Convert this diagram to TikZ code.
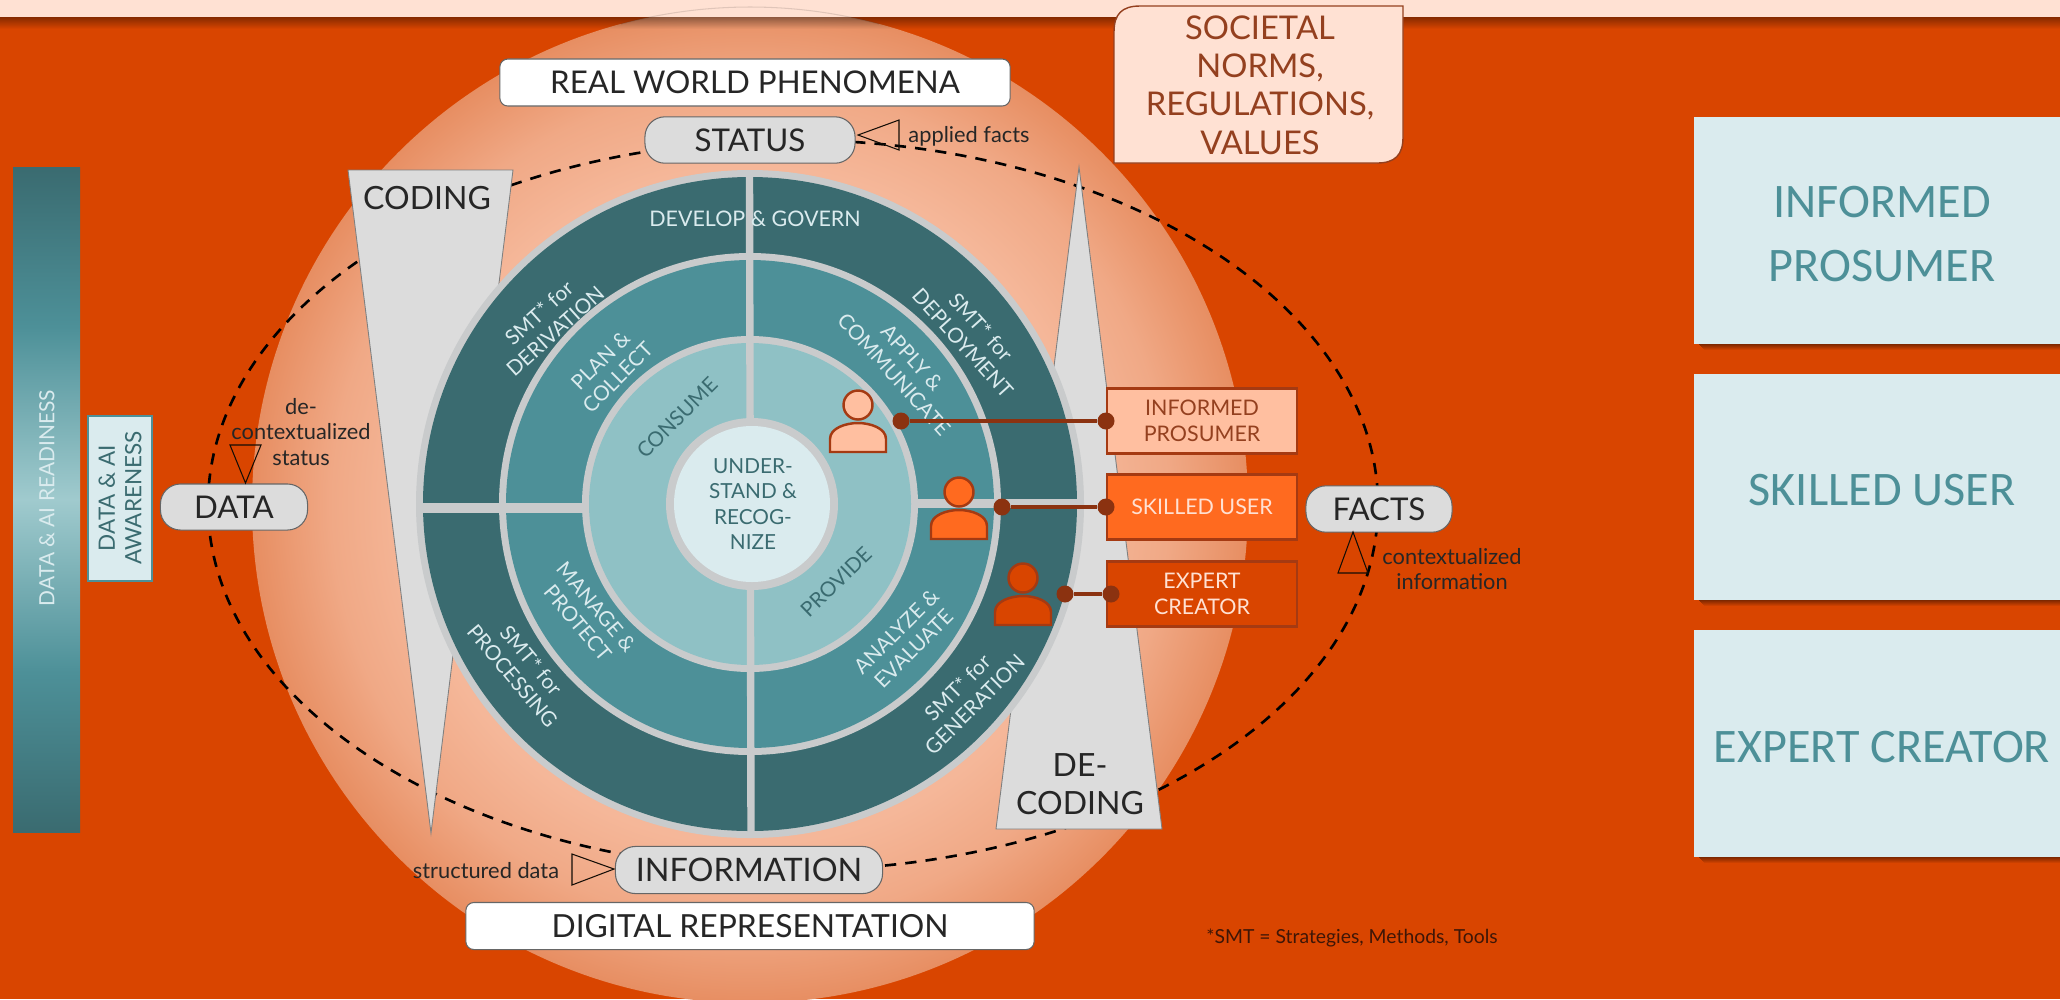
\documentclass[tikz,border=0pt]{standalone}
\usepackage{fontspec}
\setmainfont{Lato}
\newfontfamily\boxfont{Carlito}
\usetikzlibrary{calc}
\pgfdeclarelayer{ground}
\pgfdeclarelayer{oval}
\pgfsetlayers{ground,oval,main}
\definecolor{bgred}{HTML}{D94500}
\definecolor{cream}{HTML}{FFE1D3}
\definecolor{peachin}{HTML}{F5B799}
\definecolor{peachout}{HTML}{E78E62}
\definecolor{ringdark}{HTML}{3A6B70}
\definecolor{ringmid}{HTML}{4D9098}
\definecolor{ringlight}{HTML}{8FC1C5}
\definecolor{paleteal}{HTML}{DAEBEE}
\definecolor{ringgray}{HTML}{C9CBCC}
\definecolor{wedgegray}{HTML}{DCDCDC}
\definecolor{rolepeach}{HTML}{FFBFA0}
\definecolor{roleorange}{HTML}{FF6A1F}
\definecolor{rolered}{HTML}{D94500}
\definecolor{roleline}{HTML}{A53A12}
\definecolor{brownline}{HTML}{8B3210}
\definecolor{browntext}{HTML}{94401F}
\pgfdeclareradialshading{peachglow}{\pgfpointorigin}{color(0bp)=(peachin); color(17bp)=(peachin); color(21bp)=(peachin!65!peachout); color(25bp)=(peachout); color(50bp)=(peachout)}
\pgfdeclareverticalshading{barglow}{100bp}{color(0bp)=(ringdark); color(25bp)=(ringdark); color(37bp)=(ringmid); color(50bp)=(ringlight!85!white); color(63bp)=(ringmid); color(75bp)=(ringdark); color(100bp)=(ringdark)}
\tikzset{
  bigtext/.style={font=\fontsize{8.9}{10.9}\selectfont,text=black!85,align=center},
  ringtext/.style={font=\fontsize{5.9}{6.9}\selectfont,text=paleteal,align=center},
  ringdarktext/.style={ringtext,text=ringdark},
  smalltext/.style={font=\fontsize{6.2}{7.2}\selectfont,text=black!85,align=center},
  pill/.style={draw=black!60,line width=0.3pt,fill=wedgegray,rounded corners=0.2cm,minimum height=0.46cm,bigtext},
  titlebox/.style={draw=black!60,line width=0.3pt,fill=white,rounded corners=0.08cm,minimum height=0.47cm,bigtext},
  rolebox/.style={draw=roleline,line width=0.75pt,minimum width=1.9cm,minimum height=0.65cm,font=\fontsize{6.1}{7.3}\selectfont,align=center},
  bigtitle/.style={font=\boxfont\fontsize{13.7}{18}\selectfont,text=ringmid,align=center},
  wedge/.style={draw=black!50,line width=0.25pt,fill=wedgegray},
  marker/.style={draw=black!90!brown,line width=0.3pt},
  arcline/.style={black,line width=0.75pt,dash pattern=on 3.2pt off 2.6pt},
  linkdot/.style={circle,fill=brownline,inner sep=0pt,minimum size=0.17cm},
  link/.style={brownline,line width=1pt}
}
\begin{document}
\begin{tikzpicture}[x=0.01cm,y=-0.01cm]
\useasboundingbox (0,0) rectangle (2060,999);
\begin{pgfonlayer}{ground}
\fill[bgred] (0,0) rectangle (2060,999);
\begin{scope}
\clip (0,0) rectangle (2060,999);
\shade[shading=peachglow] (750,505) circle[radius=498];
\fill[cream] (0,0) rectangle (2060,17);
\draw[black,opacity=0.12,line width=0.3pt] (750,505) ++(-75:498) arc[start angle=-75,end angle=-105,radius=498];
\foreach \i in {0,...,11}
  \fill[black,opacity=0.38-0.032*\i] (0,17+\i) rectangle (2060,18+\i);
\end{scope}
\end{pgfonlayer}
\draw[wedge] (348,170) -- (513,170) -- (431,833) -- cycle;
\draw[wedge] (1079,167) -- (1162,829) -- (996,829) -- cycle;
\node[bigtext,font=\fontsize{9.1}{10.9}\selectfont] (coding) at (427,198) {CODING};
\fill[ringgray] (750,504) circle[radius=334];
\fill[ringdark] (750,504) circle[radius=327];
\fill[ringgray] (750,504) circle[radius=251];
\fill[ringmid] (750,504) circle[radius=244];
\fill[ringgray] (750,504) circle[radius=168];
\fill[ringlight] (750,504) circle[radius=161];
\draw[ringgray,line width=2.1pt] (749.5,172) -- (751,836);
\draw[ringgray,line width=2.6pt] (418,508) -- (585,508);
\draw[ringgray,line width=2.6pt] (915,503.5) -- (1082,503.5);
\fill[ringgray] (752,504) circle[radius=86];
\fill[paleteal] (752,504) circle[radius=78];
\node[ringdarktext,font=\fontsize{5.9}{7.2}\selectfont] (understand) at (753,504) {UNDER-\\STAND \&\\RECOG-\\NIZE};
\node[ringtext,font=\fontsize{6.1}{6.9}\selectfont] (develop) at (755,219) {DEVELOP \& GOVERN};
\node[ringtext,rotate=42] (derivation) at (547,322) {SMT* for\\DERIVATION};
\node[ringtext,rotate=45] (plan) at (609,369) {PLAN \&\\COLLECT};
\node[ringdarktext,rotate=45] (consume) at (677,418) {CONSUME};
\node[ringtext,rotate=-48] (deployment) at (972,335) {SMT* for\\DEPLOYMENT};
\node[ringtext,rotate=-48] (apply) at (903,366) {APPLY \&\\COMMUNICATE};
\node[ringtext,rotate=-50] (manage) at (587,615) {MANAGE \&\\PROTECT};
\node[ringtext,rotate=-50] (processing) at (522,668) {SMT* for\\PROCESSING};
\node[ringdarktext,rotate=44] (provide) at (836,582) {PROVIDE};
\node[ringtext,rotate=45] (analyze) at (905,640) {ANALYZE \&\\EVALUATE};
\node[ringtext,rotate=45] (generation) at (966,696) {SMT* for\\GENERATION};
\node[bigtext,font=\fontsize{9.1}{10.9}\selectfont] (decoding) at (1080,784) {DE-\\CODING};
\foreach \hx/\hy/\pfill in {858/405/rolepeach,959/492/roleorange,1023/578/rolered}{
  \filldraw[fill=\pfill,draw=roleline,line width=0.7pt] (\hx,\hy) circle[radius=14.5];
  \filldraw[fill=\pfill,draw=roleline,line width=0.7pt] (\hx-28,\hy+47) -- (\hx-28,\hy+34) .. controls (\hx-28,\hy+23) and (\hx-12,\hy+18) .. (\hx,\hy+18) .. controls (\hx+12,\hy+18) and (\hx+28,\hy+23) .. (\hx+28,\hy+34) -- (\hx+28,\hy+47) -- cycle;
}
\node[rolebox,fill=rolepeach,text=browntext] (prosumer) at (1202,421) {INFORMED\\PROSUMER};
\node[rolebox,fill=roleorange,text=cream] (skilled) at (1202,507) {SKILLED USER};
\node[rolebox,fill=rolered,text=cream] (expert) at (1202,594) {EXPERT\\CREATOR};
\node[linkdot] (dotA) at (901,421) {};
\node[linkdot] (dotB) at (1106,421) {};
\node[linkdot] (dotC) at (1002,507) {};
\node[linkdot] (dotD) at (1106,507) {};
\node[linkdot] (dotE) at (1065,594) {};
\node[linkdot] (dotF) at (1111,594) {};
\draw[link] (dotA) -- (dotB);
\draw[link] (dotC) -- (dotD);
\draw[link] (dotE) -- (dotF);
\node[titlebox,minimum width=5.1cm] (realworld) at (755,82.5) {REAL WORLD PHENOMENA};
\node[titlebox,minimum width=5.68cm,font=\fontsize{9.05}{10}\selectfont] (digital) at (750,926) {DIGITAL REPRESENTATION};
\filldraw[fill=cream,draw=browntext,line width=0.4pt] (1114,163) -- (1114,32) .. controls (1114,14) and (1122,6) .. (1140,6) -- (1403,6) -- (1403,137) .. controls (1403,155) and (1395,163) .. (1377,163) -- cycle;
\node[bigtext,text=browntext,font=\fontsize{9.3}{10.9}\selectfont] (societal) at (1260,85) {SOCIETAL\\NORMS,\\REGULATIONS,\\VALUES};
\shade[shading=barglow] (13,167) rectangle (80,832);
\node[font=\fontsize{5.95}{7.5}\selectfont,text=paleteal,rotate=90] (readiness) at (47,498) {DATA \& AI READINESS};
\filldraw[fill=paleteal,draw=ringmid,line width=0.8pt] (88,416) rectangle (152,581);
\node[ringdarktext,font=\fontsize{6.4}{7.5}\selectfont,rotate=90] (awareness) at (120,498) {DATA \& AI\\AWARENESS};
\foreach \bt/\by in {117/344,374/600,630/857}{
  \foreach \i in {0,...,5}
    \fill[black,opacity=0.42-0.07*\i] (1699+\i,\by+\i) rectangle (2060,\by+1+\i);
  \fill[paleteal] (1694,\bt) rectangle (2060,\by);
}
\node[bigtitle] (boxA) at (1882,234) {INFORMED\\PROSUMER};
\node[bigtitle] (boxB) at (1882,490) {SKILLED USER};
\node[bigtitle] (boxC) at (1882,747) {EXPERT CREATOR};
\node[pill,minimum width=1.47cm] (data) at (234,507) {DATA};
\node[pill,minimum width=2.1cm] (status) at (750,140) {STATUS};
\node[pill,minimum width=1.46cm] (facts) at (1379,509) {FACTS};
\node[pill,minimum width=2.67cm,font=\fontsize{9.2}{10.9}\selectfont] (information) at (749,870) {INFORMATION};
\begin{pgfonlayer}{oval}
\draw[arcline] ($(data)+(-26,-2)$) .. controls +(0,-201) and +(-323,0) .. ($(status)+(43,0)$);
\draw[arcline] ($(status)+(43,0)$) .. controls +(323,0) and +(0,-201) .. ($(facts)+(-1,-4)$);
\draw[arcline] ($(facts)+(-1,-4)$) .. controls +(0,201) and +(323,0) .. ($(information)+(44,0)$);
\draw[arcline] ($(information)+(44,0)$) .. controls +(-323,0) and +(0,201) .. ($(data)+(-26,-2)$);
\end{pgfonlayer}
\draw[marker] (858,135) -- (899,120) -- (899,150) -- cycle;
\draw[marker] (230,445) -- (261,445) -- (245.5,483) -- cycle;
\draw[marker] (1353,532) -- (1368,573) -- (1338,573) -- cycle;
\draw[marker] (572,854) -- (614,869) -- (572,885) -- cycle;
\node[smalltext] (applied) at (969,136) {applied facts};
\node[smalltext] (decont) at (301,432) {de-\\contextualized\\status};
\node[smalltext] (contextual) at (1452,569) {contextualized\\information};
\node[smalltext] (structured) at (486,871) {structured data};
\node[smalltext,font=\fontsize{5.5}{6.5}\selectfont,text=brownline!45!black] (smtnote) at (1352,938) {*SMT = Strategies, Methods, Tools};
\end{tikzpicture}
\end{document}
